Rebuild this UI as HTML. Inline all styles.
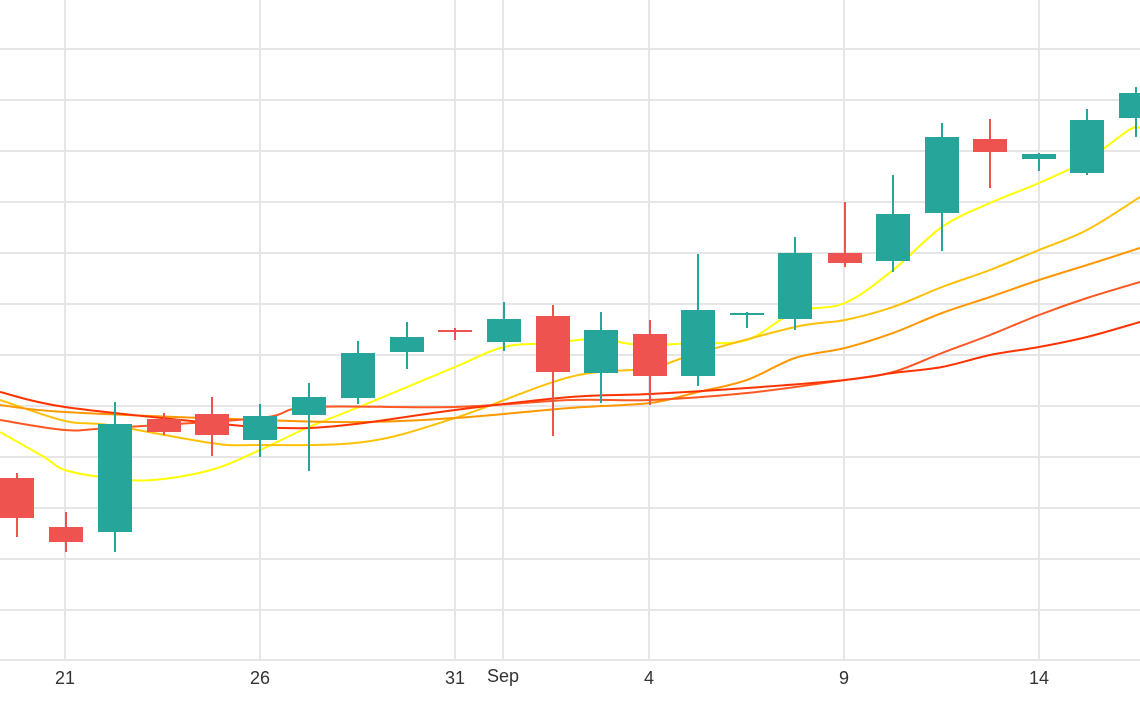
<!DOCTYPE html>
<html><head><meta charset="utf-8"><style>
html,body{margin:0;padding:0;background:#fff;}
svg{display:block;}
text{font-family:"Liberation Sans",sans-serif;font-size:18px;fill:#333;}
</style></head><body>
<svg id="s" width="1140" height="710" viewBox="0 0 1140 710" xmlns="http://www.w3.org/2000/svg">
<g stroke="#e6e6e6" stroke-width="2">
<line x1="0" y1="49" x2="1140" y2="49"/><line x1="0" y1="100" x2="1140" y2="100"/>
<line x1="0" y1="151" x2="1140" y2="151"/><line x1="0" y1="202" x2="1140" y2="202"/>
<line x1="0" y1="253" x2="1140" y2="253"/><line x1="0" y1="304" x2="1140" y2="304"/>
<line x1="0" y1="355" x2="1140" y2="355"/><line x1="0" y1="406" x2="1140" y2="406"/>
<line x1="0" y1="457" x2="1140" y2="457"/><line x1="0" y1="508" x2="1140" y2="508"/>
<line x1="0" y1="559" x2="1140" y2="559"/><line x1="0" y1="610" x2="1140" y2="610"/>
<line x1="0" y1="660" x2="1140" y2="660"/>
<line x1="65" y1="0" x2="65" y2="660"/><line x1="260" y1="0" x2="260" y2="660"/>
<line x1="455" y1="0" x2="455" y2="660"/><line x1="503" y1="0" x2="503" y2="660"/>
<line x1="649" y1="0" x2="649" y2="660"/><line x1="844" y1="0" x2="844" y2="660"/>
<line x1="1039" y1="0" x2="1039" y2="660"/>
</g>
<g fill="none" stroke-width="2" stroke-linejoin="round">
<path stroke="#ffff00" data-p="0,432 44,457 65,470 109,478 153,480 211,470 260,450 309,427 364,405 455,367 504,347 553,343 601,338 624,343 650,345 698,343 747,340 795,312 845,303 893,270 942,227 990,203 1039,183 1087,160 1129,130 1140,128"/>
<path stroke="#ffc107" data-p="0,400 65,421 109,425 211,443 255,445 364,442 455,418 570,377 650,368 698,353 795,327 845,320 893,307 942,287 990,270 1039,250 1087,230 1140,197"/>
<path stroke="#ff9800" data-p="0,405 65,412 260,420 364,422 455,418 570,408 650,403 698,392 747,380 795,358 845,348 893,333 942,313 990,297 1039,280 1087,265 1140,248"/>
<path stroke="#ff5722" data-p="0,420 65,430 109,428 260,418 309,407 455,407 570,400 650,400 747,393 845,380 893,372 942,353 990,335 1039,315 1087,298 1140,282"/>
<path stroke="#ff3300" data-p="0,392 65,407 211,423 260,427 309,428 364,423 455,410 570,397 650,394 747,388 845,380 893,373 942,367 990,355 1039,347 1087,337 1140,322"/>
</g>
<g stroke-width="2">
<g stroke="#ef5350" fill="#ef5350">
<line x1="17" y1="473" x2="17" y2="537"/><rect x="0" y="478" width="34" height="40" stroke="none"/>
<line x1="66" y1="512" x2="66" y2="552"/><rect x="49" y="527" width="34" height="15" stroke="none"/>
<line x1="164" y1="413" x2="164" y2="435"/><rect x="147" y="419" width="34" height="13" stroke="none"/>
<line x1="212" y1="397" x2="212" y2="456"/><rect x="195" y="414" width="34" height="21" stroke="none"/>
<line x1="455" y1="328" x2="455" y2="340"/><rect x="438" y="330" width="34" height="2" stroke="none"/>
<line x1="553" y1="305" x2="553" y2="436"/><rect x="536" y="316" width="34" height="56" stroke="none"/>
<line x1="650" y1="320" x2="650" y2="405"/><rect x="633" y="334" width="34" height="42" stroke="none"/>
<line x1="845" y1="202" x2="845" y2="267"/><rect x="828" y="253" width="34" height="10" stroke="none"/>
<line x1="990" y1="119" x2="990" y2="188"/><rect x="973" y="139" width="34" height="13" stroke="none"/>
</g>
<g stroke="#26a69a" fill="#26a69a">
<line x1="115" y1="402" x2="115" y2="552"/><rect x="98" y="424" width="34" height="108" stroke="none"/>
<line x1="260" y1="404" x2="260" y2="457"/><rect x="243" y="416" width="34" height="24" stroke="none"/>
<line x1="309" y1="383" x2="309" y2="471"/><rect x="292" y="397" width="34" height="18" stroke="none"/>
<line x1="358" y1="341" x2="358" y2="404"/><rect x="341" y="353" width="34" height="45" stroke="none"/>
<line x1="407" y1="322" x2="407" y2="369"/><rect x="390" y="337" width="34" height="15" stroke="none"/>
<line x1="504" y1="302" x2="504" y2="351"/><rect x="487" y="319" width="34" height="23" stroke="none"/>
<line x1="601" y1="312" x2="601" y2="403"/><rect x="584" y="330" width="34" height="43" stroke="none"/>
<line x1="698" y1="254" x2="698" y2="386"/><rect x="681" y="310" width="34" height="66" stroke="none"/>
<line x1="747" y1="312" x2="747" y2="328"/><rect x="730" y="313" width="34" height="2" stroke="none"/>
<line x1="795" y1="237" x2="795" y2="330"/><rect x="778" y="253" width="34" height="66" stroke="none"/>
<line x1="893" y1="175" x2="893" y2="272"/><rect x="876" y="214" width="34" height="47" stroke="none"/>
<line x1="942" y1="123" x2="942" y2="251"/><rect x="925" y="137" width="34" height="76" stroke="none"/>
<line x1="1039" y1="153" x2="1039" y2="171"/><rect x="1022" y="154" width="34" height="5" stroke="none"/>
<line x1="1087" y1="109" x2="1087" y2="175"/><rect x="1070" y="120" width="34" height="53" stroke="none"/>
<line x1="1136" y1="87" x2="1136" y2="137"/><rect x="1119" y="93" width="34" height="25" stroke="none"/>
</g>
</g>
<g text-anchor="middle">
<text x="65" y="684">21</text><text x="260" y="684">26</text><text x="455" y="684">31</text>
<text x="503" y="682">Sep</text><text x="649" y="684">4</text><text x="844" y="684">9</text><text x="1039" y="684">14</text>
</g>
</svg>
<script>
document.querySelectorAll('path[data-p]').forEach(function(el){
  var p=el.getAttribute('data-p').split(' ').map(function(s){var a=s.split(',');return [+a[0],+a[1]];});
  var d='M'+p[0][0]+','+p[0][1];
  for(var i=0;i<p.length-1;i++){
    var p0=p[i-1]||p[i],p1=p[i],p2=p[i+1],p3=p[i+2]||p2;
    var c1x=p1[0]+(p2[0]-p0[0])/6,c1y=p1[1]+(p2[1]-p0[1])/6;
    var c2x=p2[0]-(p3[0]-p1[0])/6,c2y=p2[1]-(p3[1]-p1[1])/6;
    d+=' C'+c1x+','+c1y+' '+c2x+','+c2y+' '+p2[0]+','+p2[1];
  }
  el.setAttribute('d',d);
});
</script>
</body></html>
